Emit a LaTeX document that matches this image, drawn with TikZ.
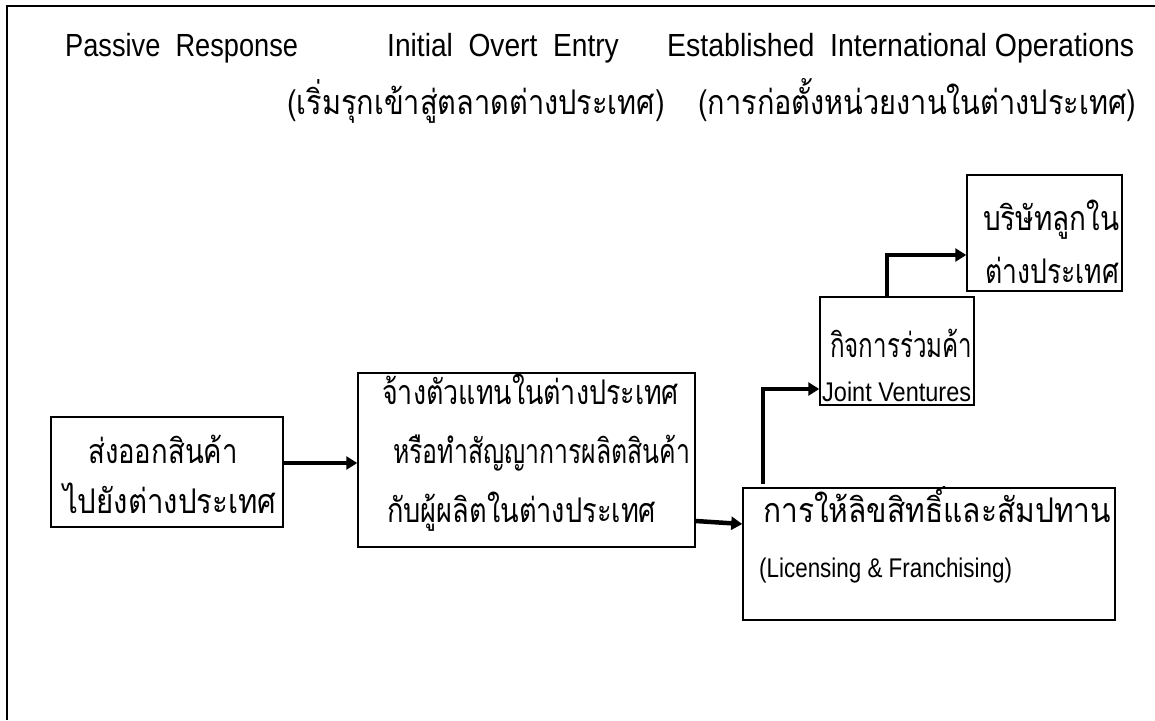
\documentclass[tikz,border=0pt]{standalone}
\usepackage{fontspec}
\usetikzlibrary{arrows.meta,calc}
\newfontfamily\thai[Script=Thai]{Loma}
\newfontfamily\lat{Liberation Sans}
\newcommand\sx[2]{\scalebox{#1}[1]{#2}}
\tikzset{
  box/.style={draw, line width=1.5pt, rectangle, inner sep=0pt},
  conn/.style={line width=4.5pt, -{Triangle[length=11pt,width=13pt]}},
  thtxt/.style={inner sep=0pt, font=\thai\fontsize{34}{36}\selectfont},
  ttl/.style={inner sep=0pt, font=\lat\fontsize{32}{34}\selectfont},
  ltxt/.style={inner sep=0pt, font=\lat\fontsize{27}{29}\selectfont},
}
\begin{document}
\begin{tikzpicture}[x=1pt,y=-1pt]
\useasboundingbox (0,0) rectangle (1155,720);
% frame
\coordinate (fa) at (7,720);
\coordinate (fb) at (7,6);
\coordinate (fc) at (1155,6);
\draw[line width=2.5pt] (fa) -- (fb) -- (fc);
% titles
\node[ttl, anchor=base west] (t1) at (65,56) {\sx{0.85}{Passive\ \ Response}};
\node[ttl, anchor=base west] (t2) at (387,56) {\sx{0.88}{Initial\ \ Overt\ \ Entry}};
\node[ttl, anchor=base west] (t3) at (667,56) {\sx{0.89}{Established\ \ International Operations}};
\node[thtxt, anchor=base west] (t4) at (287,114) {\sx{0.85}{(เริ่มรุกเข้าสู่ตลาดต่างประเทศ)}};
\node[thtxt, anchor=base west] (t5) at (698,114) {\sx{0.85}{(การก่อตั้งหน่วยงานในต่างประเทศ)}};
% boxes
\node[box, minimum width=232pt, minimum height=110pt] (b1) at (167,472) {};
\node[box, minimum width=337pt, minimum height=174pt] (b2) at (526.5,460) {};
\node[box, minimum width=372pt, minimum height=132pt] (b3) at (929,554) {};
\node[box, minimum width=154pt, minimum height=108pt] (b4) at (897,351) {};
\node[box, minimum width=155pt, minimum height=116pt] (b5) at (1044.5,233) {};
% box texts
\node[thtxt, anchor=base west] (b1a) at (88,463) {\sx{0.81}{ส่งออกสินค้า}};
\node[thtxt, anchor=base west] (b1b) at (63,513) {\sx{0.865}{ไปยังต่างประเทศ}};
\node[thtxt, anchor=base west] (b2a) at (382,404) {\sx{0.79}{จ้างตัวแทนในต่างประเทศ}};
\node[thtxt, anchor=base west] (b2b) at (393,463) {\sx{0.73}{หรือทำสัญญาการผลิตสินค้า}};
\node[thtxt, anchor=base west] (b2c) at (387,522) {\sx{0.80}{กับผู้ผลิตในต่างประเทศ}};
\node[thtxt, anchor=base west] (b3a) at (763,522) {\sx{0.88}{การให้ลิขสิทธิ์และสัมปทาน}};
\node[ltxt, anchor=base west] (b3b) at (759,577) {\sx{0.83}{(Licensing \& Franchising)}};
\node[thtxt, anchor=base west] (b4a) at (830,357) {\sx{0.71}{กิจการร่วมค้า}};
\node[ltxt, anchor=base west] (b4b) at (822,401) {\sx{0.87}{Joint Ventures}};
\node[thtxt, anchor=base west] (b5a) at (983,230) {\sx{0.82}{บริษัทลูกใน}};
\node[thtxt, anchor=base west] (b5b) at (985,283) {\sx{0.78}{ต่างประเทศ}};
% connectors
\draw[conn] ([yshift=9pt]b1.east) -- ([yshift=9pt]b1.east -| b2.west);
\draw[conn] ([yshift=-61pt]b2.east) -- ([yshift=30pt]b3.west);
\draw[conn] ([xshift=-166pt,yshift=3pt]b3.north) |- ([yshift=-38pt]b4.west);
\draw[conn] ([xshift=-10pt]b4.north) |- ([yshift=-22pt]b5.west);
\end{tikzpicture}
\end{document}
